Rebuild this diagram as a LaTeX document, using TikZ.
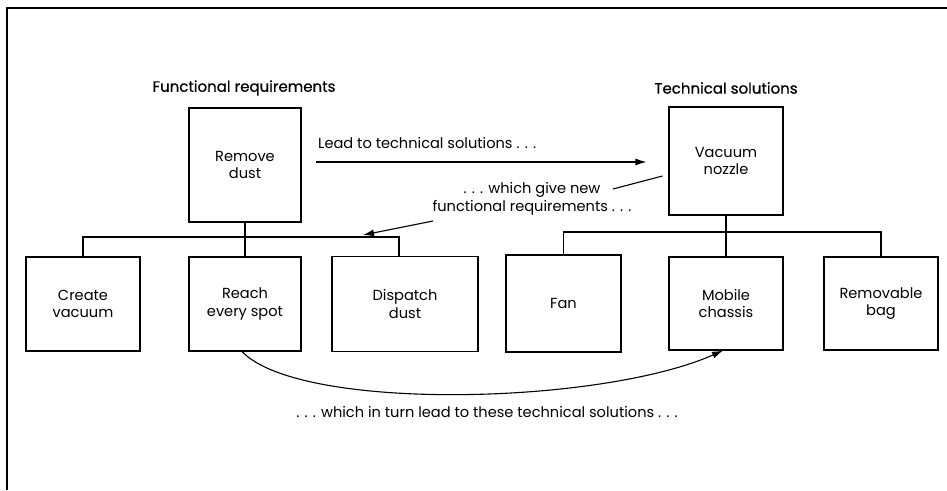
\documentclass[tikz,border=0pt]{standalone}
\usepackage{fontspec}
\setmainfont{Poppins}
\newfontfamily\headfont[FakeBold=0.6]{Poppins}
\usetikzlibrary{arrows.meta,calc}

\begin{document}
\begin{tikzpicture}[x=1pt,y=-1pt,
  font=\fontsize{14.6}{17.5}\selectfont,
  box/.style={draw,line width=1.1pt,inner sep=0pt,align=center,
              font=\fontsize{14.6}{17.5}\selectfont},
  link/.style={line width=1.1pt},
  arr/.style={line width=1.1pt,-{Latex[length=11pt,width=7pt]}},
  head/.style={font=\headfont\fontsize{15}{18}\selectfont},
  note/.style={align=center,inner sep=0pt}]
\useasboundingbox (0,0) rectangle (947,490);

% page frame (top and left rules)
\draw[line width=1.3pt] (7,490) -- (7,8) -- (947,8);

% column headings
\node[head] (hfun) at (244,88) {Functional requirements};
\node[head] (htec) at (726,88) {Technical solutions};

% top-level boxes
\node[box,minimum width=112pt,minimum height=114pt] (remove) at (245,165) {Remove\\dust};
\node[box,minimum width=114pt,minimum height=108pt] (vac) at (726,161) {Vacuum\\nozzle};

% functional requirement children
\node[box,minimum width=114pt,minimum height=94pt] (create) at (83,304) {Create\\vacuum};
\node[box,minimum width=112pt,minimum height=94pt] (reach) at (245,304) {Reach\\every spot};
\node[box,minimum width=146pt,minimum height=95pt] (dispatch) at (405,304) {Dispatch\\dust};

% technical solution children
\node[box,minimum width=115pt,minimum height=97pt] (fan) at (563.5,303.5) {Fan};
\node[box,minimum width=114pt,minimum height=93pt] (mobile) at (726,303.5) {Mobile\\chassis};
\node[box,minimum width=114pt,minimum height=93pt] (bag) at (881,303.5) {Removable\\bag};

% tree connectors, left
\coordinate (lbus) at (245,237);
\draw[link] (remove.south) -- (lbus);
\draw[link] (create.north) |- ([xshift=-6pt]dispatch.north |- lbus) -- ([xshift=-6pt]dispatch.north);
\draw[link] (reach.north) -- (reach.north |- lbus);

% tree connectors, right
\coordinate (rbus) at (726,232);
\draw[link] (vac.south) -- (rbus);
\draw[link] (fan.north) |- (bag.north |- rbus) -- (bag.north);
\draw[link] (mobile.north) -- (mobile.north |- rbus);

% "lead to" arrow
\coordinate (a1s) at ($(remove.east)+(14,-3)$);
\coordinate (a1e) at ($(vac.west)+(-22,1)$);
\draw[arr] (a1s) -- (a1e);
\node[anchor=west,inner sep=0pt] (lead) at (318,143) {Lead to technical solutions . . .};

% "which give new" arrow with its label
\node[note] (give) at (532,199) {. . . which give new\\functional requirements . . .};
\coordinate (g1s) at ($(vac.west)+(-6,15)$);
\coordinate (g1e) at (613,189);
\draw[link] (g1s) -- (g1e);
\coordinate (g2s) at (433,221);
\coordinate (g2e) at (363,235);
\draw[arr] (g2s) -- (g2e);

% "in turn" curved arrow
\draw[arr] ([xshift=-3pt]reach.south) .. controls (300,412) and (600,405) .. ([xshift=-3pt]mobile.south);
\node[note] (turn) at (487,412) {. . . which in turn lead to these technical solutions . . .};
\end{tikzpicture}
\end{document}
